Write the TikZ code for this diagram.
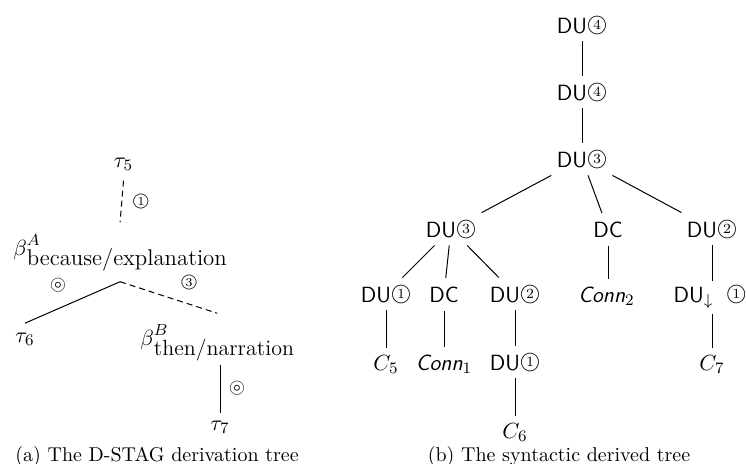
\documentclass[tikz,border=0pt]{standalone}
\usepackage{amssymb}
\newcommand{\cnum}[1]{{\fontsize{10}{11}\selectfont\raisebox{1.3pt}{\ooalign{$\bigcirc$\cr\hfil\raisebox{0.25pt}{\fontsize{7}{8}\selectfont\rmfamily #1}\hfil\cr}}}}
\newcommand{\cnums}[1]{{\fontsize{8.5}{9}\selectfont\ooalign{$\bigcirc$\cr\hfil\raisebox{0.25pt}{\fontsize{6}{7}\selectfont\rmfamily #1}\hfil\cr}}}
\begin{document}
\begin{tikzpicture}[x=0.5pt,y=-0.5pt,
  edge/.style={line width=0.5pt},
  dsh/.style={line width=0.5pt, dash pattern=on 3pt off 2pt},
  rnode/.style={font=\fontsize{11}{13}\selectfont\sffamily, inner xsep=3pt, inner ysep=0pt, minimum height=16pt, anchor=base},
  lnode/.style={font=\fontsize{11.2}{13}\selectfont, inner sep=0pt},
  lbl/.style={font=\fontsize{9.5}{11}\selectfont, inner sep=0pt},
  captxt/.style={font=\fontsize{10}{12}\selectfont, inner sep=0pt, anchor=base}]
\useasboundingbox (0,0) rectangle (746,463);
% ---------- (a) derivation tree ----------
\node[lnode, anchor=base] (t5) at (123.5,167) {$\tau_5$};
\node[lnode, anchor=base west] (bA) at (13,255.6) {$\beta$\rlap{\raisebox{5.3pt}{\fontsize{8.5}{9}\selectfont$A$}}\raisebox{-4.7pt}{\fontsize{11.4}{13}\selectfont because/explanation}};
\node[lnode, anchor=base] (t6) at (25,342) {$\tau_6$};
\node[lnode, anchor=base west] (bB) at (140,345.6) {$\beta$\rlap{\raisebox{5.3pt}{\fontsize{8.5}{9}\selectfont$B$}}\raisebox{-4.7pt}{\fontsize{11}{13}\selectfont then/narration}};
\node[lnode, anchor=base] (t7) at (220,430) {$\tau_7$};
\draw[dsh] ([yshift=-5pt]t5.south) -- ([yshift=5.7pt]bA.north);
\draw[edge] ([yshift=-5.3pt]bA.south) -- ([yshift=4.5pt]t6.north);
\draw[dsh] ([yshift=-5.3pt]bA.south) -- ([yshift=5.2pt]bB.north);
\draw[edge] ([yshift=-1.8pt]t7.north |- bB.south) -- ([yshift=3.5pt]t7.north);
\node[lbl] (l1) at (141,200) {\cnums{1}};
\node[lbl, font=\fontsize{10.5}{12}\selectfont] (l2) at (58,285) {$\circledcirc$};
\node[lbl] (l3) at (189,281) {\cnums{3}};
\node[lbl, font=\fontsize{10.5}{12}\selectfont] (l4) at (237,388) {$\circledcirc$};
% ---------- (b) derived tree ----------
\node[rnode] (r1) at (582,33) {DU\cnum{4}};
\node[rnode] (r2) at (582,100) {DU\cnum{4}};
\node[rnode] (r3) at (582,167) {DU\cnum{3}};
\node[rnode] (r4) at (451,237) {DU\cnum{3}};
\node[rnode] (r5) at (608,237) {DC};
\node[rnode] (r6) at (712,237) {DU\cnum{2}};
\node[rnode] (r7) at (386,302) {DU\cnum{1}};
\node[rnode] (r8) at (444,302) {DC};
\node[rnode] (r9) at (515,302) {DU\cnum{2}};
\node[rnode] (r10) at (606.5,302) {\itshape Conn$_2$};
\node[rnode] (r11) at (710,302) {DU$_\downarrow$\hspace{6.5pt}\cnum{1}};
\node[rnode] (r12) at (386,370) {$C_5$};
\node[rnode] (r13) at (444,370) {\itshape Conn$_1$};
\node[rnode] (r14) at (515,370) {DU\cnum{1}};
\node[rnode] (r15) at (712,370) {$C_7$};
\node[rnode] (r16) at (515,438) {$C_6$};
\draw[edge] (r1) -- (r2);
\draw[edge] (r2) -- (r3);
\draw[edge] (r3) -- (r4);
\draw[edge] (r3) -- (r5);
\draw[edge] (r3) -- (r6);
\draw[edge] (r4) -- (r7);
\draw[edge] (r4) -- (r8);
\draw[edge] (r4) -- (r9);
\draw[edge] (r5) -- (r5 |- r10.north);
\draw[edge] (r6) -- (r6 |- r11.north);
\draw[edge] (r7) -- (r12);
\draw[edge] (r8) -- (r13);
\draw[edge] (r9) -- (r14);
\draw[edge] (r15 |- r11.south) -- (r15);
\draw[edge] (r14) -- (r16);
% ---------- captions ----------
\node[captxt] (ca) at (157,461) {(a) The D-STAG derivation tree};
\node[captxt] (cb) at (559,461) {(b) The syntactic derived tree};
\end{tikzpicture}
\end{document}
